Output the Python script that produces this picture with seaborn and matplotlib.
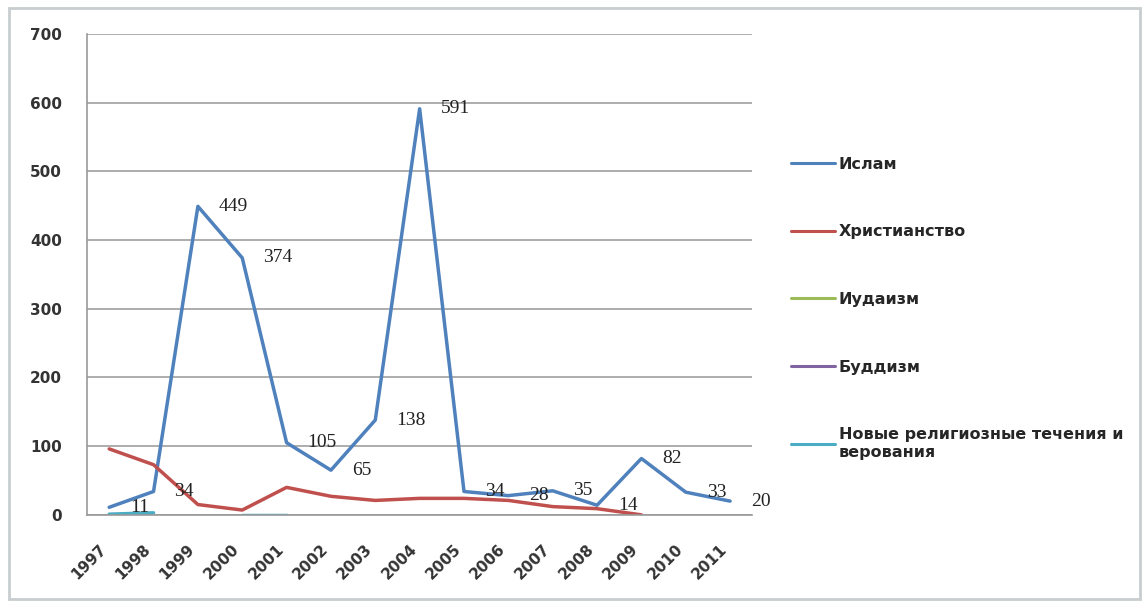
import numpy as np
import pandas as pd
import matplotlib.pyplot as plt
import seaborn as sns
from matplotlib.lines import Line2D
from matplotlib.patches import Rectangle

# data
years = [1997, 1998, 1999, 2000, 2001, 2002, 2003, 2004, 2005, 2006, 2007, 2008, 2009, 2010, 2011]
islam = [11, 34, 449, 374, 105, 65, 138, 591, 34, 28, 35, 14, 82, 33, 20]
christianity = [96, 73, 15, 7, 40, 27, 21, 24, 24, 21, 12, 9, 0, np.nan, np.nan]
judaism = [np.nan] * 15
buddhism = [np.nan] * 15
new_movements = [1, 3, np.nan, 0, 0] + [np.nan] * 10

names = ["Ислам", "Христианство", "Иудаизм", "Буддизм",
         "Новые религиозные течения и\nверования"]
colors = ["#4F81BD", "#C0504D", "#9BBB59", "#8064A2", "#4BACC6"]
series = [islam, christianity, judaism, buddhism, new_movements]

# long table; a segment id breaks lines at gaps
rows = []
for name, vals in zip(names, series):
    seg = 0
    for i, v in enumerate(vals):
        if np.isnan(v):
            seg += 1
            continue
        rows.append({"pos": i, "value": v, "religion": name, "seg": f"{name}_{seg}"})
df = pd.DataFrame(rows)

sns.set_style("white")
plt.rcParams['font.family'] = ['DejaVu Sans']

fig = plt.figure(figsize=(11.45, 6.05), dpi=100)
ax = fig.add_axes([0.076, 0.149, 0.581, 0.795])

sns.lineplot(data=df, x="pos", y="value", hue="religion", units="seg", estimator=None,
             hue_order=names, palette=dict(zip(names, colors)), linewidth=2.5,
             legend=False, ax=ax, sort=False)

# data labels for Islam
for i, v in enumerate(islam):
    ax.annotate(f"{v}", (i, v), xytext=(15, 0), textcoords="offset points",
                ha="left", va="center", fontsize=14, family="Liberation Serif",
                color="#222222")

ax.set_xlim(-0.5, len(years) - 0.5)
ax.set_ylim(0, 700)
ax.set_yticks(range(0, 701, 100))
ax.set_xticks(range(len(years)))
ax.set_xticklabels(years, rotation=45, ha="right", fontsize=11, fontweight="bold",
                   color="#333333")
ax.set_xticks(np.arange(-0.5, len(years), 1), minor=True)
ax.tick_params(axis="x", which="major", length=0, pad=19)
ax.tick_params(axis="x", which="minor", length=6, color="#999999", width=1.2)
ax.tick_params(axis="y", length=6, color="#999999", width=1.2, pad=12, labelsize=11)
for lab in ax.get_yticklabels():
    lab.set_fontweight("bold")
    lab.set_color("#333333")
ax.set_xlabel("")
ax.set_ylabel("")
ax.grid(axis="y", color="#a0a0a0", linewidth=1.2)
ax.set_axisbelow(True)
for s in ["top", "right"]:
    ax.spines[s].set_visible(False)
for s in ["left", "bottom"]:
    ax.spines[s].set_color("#999999")
    ax.spines[s].set_linewidth(1.2)

handles = [Line2D([0], [0], color=c, lw=2.2) for c in colors]
fig.legend(handles, names, loc="upper left", bbox_to_anchor=(0.678, 0.765),
           frameon=False, handlelength=2.8, handletextpad=0.2, labelspacing=3.3,
           prop={"size": 11.5, "weight": "bold"})

fig.add_artist(Rectangle((0.008, 0.01), 0.988, 0.977, transform=fig.transFigure,
                         fill=False, edgecolor="#c8cdd0", linewidth=2))

fig.savefig("out.png", dpi=100)
